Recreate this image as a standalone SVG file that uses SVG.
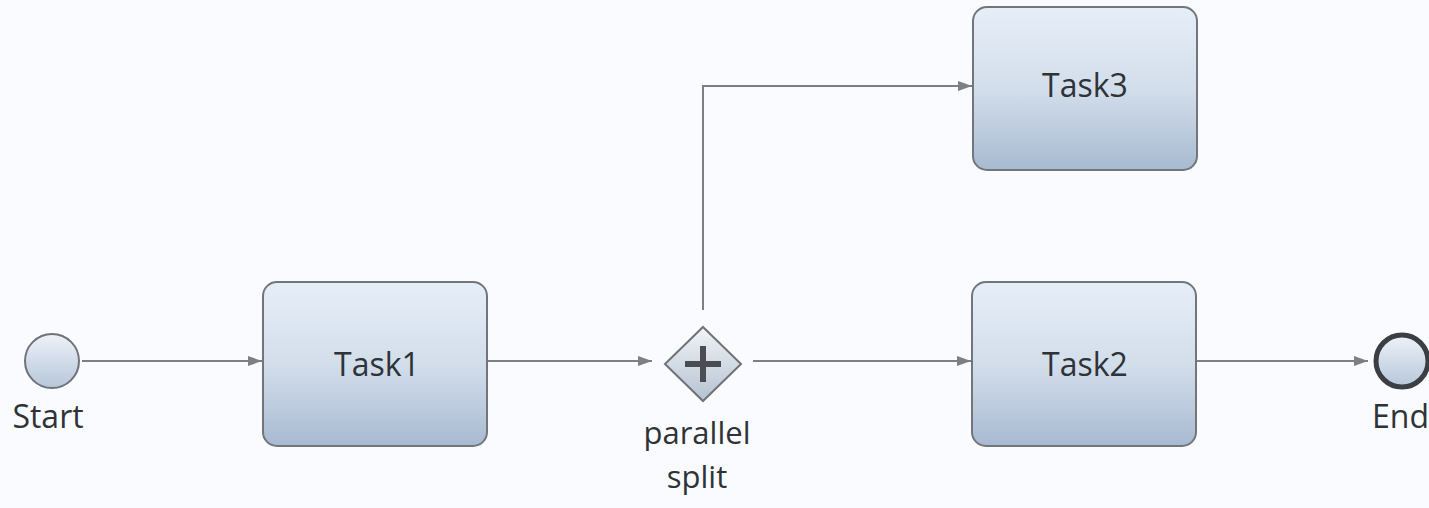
<svg xmlns="http://www.w3.org/2000/svg" width="1429" height="508" viewBox="0 0 1429 508">
  <style>
    .task { fill: url(#taskFill); stroke: #72767c; stroke-width: 2; }
    .label { font-family: "Open Sans", "Noto Sans", "DejaVu Sans", sans-serif; font-size: 32px; fill: #2e3338; }
    .gate-label { font-size: 31px; }
    .flow { fill: none; stroke: #7c7f84; stroke-width: 2; marker-end: url(#arrow); }
  </style>
  <defs>
    <linearGradient id="taskFill" x1="0" y1="0" x2="0" y2="1">
      <stop offset="0" stop-color="#e6eef8"/>
      <stop offset="0.5" stop-color="#d3deeb"/>
      <stop offset="1" stop-color="#a8bad1"/>
    </linearGradient>
    <linearGradient id="eventFill" x1="0" y1="0" x2="0" y2="1">
      <stop offset="0" stop-color="#eef2f8"/>
      <stop offset="1" stop-color="#b6c6da"/>
    </linearGradient>
    <linearGradient id="gateFill" x1="0" y1="0" x2="0" y2="1">
      <stop offset="0" stop-color="#f2f4f7"/>
      <stop offset="1" stop-color="#b5c2d1"/>
    </linearGradient>
    <marker id="arrow" viewBox="0 0 14 10" refX="14" refY="5" markerWidth="14" markerHeight="10" markerUnits="userSpaceOnUse" orient="auto">
      <path d="M0,0 L14,5 L0,10 Z" fill="#7c7f84"/>
    </marker>
  </defs>

  <rect width="1429" height="508" fill="#f9fbfe"/>

  <!-- sequence flows -->
  <g id="connectors">
    <path class="flow" d="M82,361 H262"/>
    <path class="flow" d="M488,361 H652"/>
    <path class="flow" d="M753,361 H971"/>
    <path class="flow" d="M703,310 V86 H972"/>
    <path class="flow" d="M1196,361 H1368"/>
  </g>

  <g id="start">
    <circle cx="52" cy="361" r="27" fill="url(#eventFill)" stroke="#6f7379" stroke-width="2"/>
    <text class="label" x="48" y="428" text-anchor="middle">Start</text>
  </g>

  <g id="task1">
    <rect class="task" x="263" y="282" width="224" height="164" rx="14"/>
    <text class="label" x="377" y="376" text-anchor="middle">Task1</text>
  </g>

  <g id="parallelSplit">
    <path d="M703,327 L741,364 L703,401 L665,364 Z" fill="url(#gateFill)" stroke="#6f7379" stroke-width="2"/>
    <path d="M703,346 V382 M685,364 H721" stroke="#4a4e54" stroke-width="6" fill="none"/>
    <text class="label gate-label" x="697" y="444" text-anchor="middle">parallel</text>
    <text class="label gate-label" x="697" y="488" text-anchor="middle">split</text>
  </g>

  <g id="task3">
    <rect class="task" x="973" y="7" width="224" height="163" rx="14"/>
    <text class="label" x="1085" y="97" text-anchor="middle">Task3</text>
  </g>

  <g id="task2">
    <rect class="task" x="972" y="282" width="224" height="164" rx="14"/>
    <text class="label" x="1085" y="376" text-anchor="middle">Task2</text>
  </g>

  <g id="end">
    <circle cx="1402" cy="361" r="26" fill="url(#eventFill)" stroke="#3b3e43" stroke-width="5"/>
    <text class="label" x="1372" y="428">End</text>
  </g>
</svg>
